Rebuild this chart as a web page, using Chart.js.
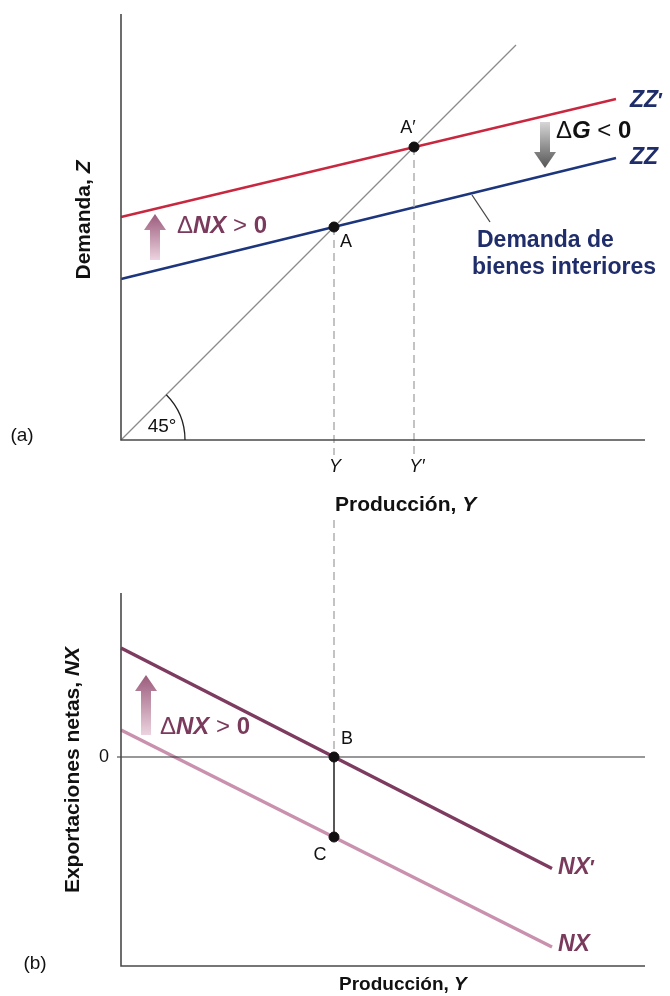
<!DOCTYPE html>
<html>
<head>
<meta charset="utf-8">
<script src="https://cdn.jsdelivr.net/npm/chart.js@4.4.1/dist/chart.umd.min.js"></script>
<style>
  html, body { margin: 0; padding: 0; background: #fff; }
  canvas { display: block; }
</style>
</head>
<body>
<canvas id="modelo" width="670" height="996"></canvas>
<script>
// --- datos (unidades del gráfico; panel a usa eje yA, panel b usa eje yB) ---
const line45 = [[0, 0], [7.9, 7.9]];
const zzDemand = [[0, 3.22], [9.9, 5.64]];      // ZZ
const zzPrime = [[0, 4.46], [9.9, 6.82]];       // ZZ'
const pointA = [4.26, 4.26];
const pointA2 = [5.86, 5.86];
const nxLine = [[0, 0.54], [8.62, -3.8]];       // NX
const nxPrime = [[0, 2.18], [8.62, -2.23]];     // NX'
const pointB = [4.26, 0];
const pointC = [4.26, -1.6];
const axisA = { top: 8.52, right: 10.48 };
const axisB = { top: 3.28, bottom: -4.18, right: 10.48 };

const pts = arr => arr.map(p => ({ x: p[0], y: p[1] }));

const NAVY = '#1f2d6b';
const MAUVE = '#7a3a5c';

function seg(data, color, width, axis, dash) {
  return {
    data: pts(data), yAxisID: axis, showLine: true, borderColor: color,
    borderWidth: width, borderDash: dash || [], pointRadius: 0, fill: false, order: 2
  };
}
function dot(p, axis) {
  return {
    data: pts([p]), yAxisID: axis, pointRadius: 5, pointBackgroundColor: '#111',
    pointBorderColor: '#111', showLine: false, order: 0
  };
}

const datasets = [
  // panel (a)
  seg([[0, axisA.top], [0, 0], [axisA.right, 0]], '#4a4a4a', 1.6, 'yA'),
  seg([[pointA[0], pointA[1]], [pointA[0], -0.3]], '#b0b0b0', 1.5, 'yA', [8, 5]),
  seg([[pointA2[0], pointA2[1]], [pointA2[0], -0.3]], '#b0b0b0', 1.5, 'yA', [8, 5]),
  seg(line45, '#8a8a8a', 1.3, 'yA'),
  seg(zzDemand, '#1c357c', 2.4, 'yA'),
  seg(zzPrime, '#c8283f', 2.4, 'yA'),
  seg([[7.02, 4.9], [7.38, 4.36]], '#444', 1.3, 'yA'),
  dot(pointA, 'yA'),
  dot(pointA2, 'yA'),
  // panel (b)
  seg([[0, axisB.top], [0, axisB.bottom], [axisB.right, axisB.bottom]], '#4a4a4a', 1.6, 'yB'),
  seg([[-0.08, 0], [axisB.right, 0]], '#333', 1.2, 'yB'),
  seg([[pointB[0], 4.74], [pointB[0], 0]], '#b0b0b0', 1.5, 'yB', [8, 5]),
  seg(nxLine, '#c991ad', 3.4, 'yB'),
  seg(nxPrime, '#7d3b5f', 3.4, 'yB'),
  seg([pointB, pointC], '#111', 1.4, 'yB'),
  dot(pointB, 'yB'),
  dot(pointC, 'yB')
];

// etiquetas: segmentos con distintos estilos
const labels = [
  { axis: 'yA', x: 10.18, y: 6.78, color: NAVY, parts: [['ZZ', 'italic bold 23px'], ['′', 'bold 20px']] },
  { axis: 'yA', x: 10.18, y: 5.64, color: NAVY, parts: [['ZZ', 'italic bold 23px']] },
  { axis: 'yA', x: 8.7, y: 6.18, color: '#111', parts: [['Δ', '24px'], ['G', 'italic bold 24px'], [' < ', '24px'], ['0', 'bold 24px']] },
  { axis: 'yA', x: 5.74, y: 6.24, color: '#111', center: true, parts: [['A′', '18px']] },
  { axis: 'yA', x: 4.5, y: 3.96, color: '#111', center: true, parts: [['A', '18px']] },
  { axis: 'yA', x: 1.12, y: 4.28, color: MAUVE, parts: [['Δ', '24px'], ['NX', 'italic bold 24px'], [' > ', '24px'], ['0', 'bold 24px']] },
  { axis: 'yA', x: 7.12, y: 3.98, color: NAVY, parts: [['Demanda de', 'bold 23px']] },
  { axis: 'yA', x: 7.02, y: 3.44, color: NAVY, parts: [['bienes interiores', 'bold 23px']] },
  { axis: 'yA', x: 0.82, y: 0.26, color: '#111', center: true, parts: [['45°', '19px']] },
  { axis: 'yA', x: -1.98, y: 0.08, color: '#111', center: true, parts: [['(a)', '19px']] },
  { axis: 'yA', x: 4.28, y: -0.54, color: '#111', center: true, parts: [['Y', 'italic 18px']] },
  { axis: 'yA', x: 5.92, y: -0.54, color: '#111', center: true, parts: [['Y′', 'italic 18px']] },
  { axis: 'yA', x: 4.28, y: -1.3, color: '#111', parts: [['Producción, ', 'bold 21px'], ['Y', 'italic bold 21px']] },
  { axis: 'yA', x: -0.74, y: 4.4, color: '#111', center: true, rotate: true, parts: [['Demanda, ', 'bold 21px'], ['Z', 'italic bold 21px']] },
  { axis: 'yB', x: -0.96, y: -0.26, color: '#111', center: true, rotate: true, parts: [['Exportaciones netas, ', 'bold 21px'], ['NX', 'italic bold 21px']] },
  { axis: 'yB', x: -0.34, y: 0, color: '#111', center: true, parts: [['0', '18px']] },
  { axis: 'yB', x: 4.52, y: 0.36, color: '#111', center: true, parts: [['B', '18px']] },
  { axis: 'yB', x: 3.98, y: -1.96, color: '#111', center: true, parts: [['C', '18px']] },
  { axis: 'yB', x: 0.78, y: 0.6, color: MAUVE, parts: [['Δ', '24px'], ['NX', 'italic bold 24px'], [' > ', '24px'], ['0', 'bold 24px']] },
  { axis: 'yB', x: 8.74, y: -2.22, color: MAUVE, parts: [['NX', 'italic bold 23px'], ['′', 'bold 20px']] },
  { axis: 'yB', x: 8.74, y: -3.76, color: MAUVE, parts: [['NX', 'italic bold 23px']] },
  { axis: 'yB', x: -1.72, y: -4.14, color: '#111', center: true, parts: [['(b)', '19px']] },
  { axis: 'yB', x: 4.36, y: -4.56, color: '#111', parts: [['Producción, ', 'bold 19px'], ['Y', 'italic bold 19px']] }
];

// flechas: x, base, punta (unidades)
const arrows = [
  { axis: 'yA', x: 0.68, from: 3.6, to: 4.52, c0: '#ecd3df', c1: '#9b5b7c' },
  { axis: 'yB', x: 0.5, from: 0.44, to: 1.64, c0: '#ecd3df', c1: '#9b5b7c' },
  { axis: 'yA', x: 8.48, from: 6.36, to: 5.44, c0: '#d6d6d6', c1: '#555' }
];

const FAM = ' "Liberation Sans", Arial, sans-serif';

const annotatePlugin = {
  id: 'annotate',
  afterDatasetsDraw(chart) {
    const { ctx, scales } = chart;
    const sx = scales.x;

    // arco de 45°
    const ox = sx.getPixelForValue(0), oy = scales.yA.getPixelForValue(0);
    const r = sx.getPixelForValue(1.28) - ox;
    ctx.save();
    ctx.strokeStyle = '#222';
    ctx.lineWidth = 1.3;
    ctx.beginPath();
    ctx.arc(ox, oy, r, -Math.PI / 4, 0);
    ctx.stroke();
    ctx.restore();

    // flechas
    arrows.forEach(a => {
      const x = sx.getPixelForValue(a.x);
      const y0 = scales[a.axis].getPixelForValue(a.from);
      const y1 = scales[a.axis].getPixelForValue(a.to);
      const dir = y1 < y0 ? -1 : 1;
      const head = 16, hw = 11, sw = 5;
      const g = ctx.createLinearGradient(0, y0, 0, y1);
      g.addColorStop(0, a.c0);
      g.addColorStop(1, a.c1);
      ctx.save();
      ctx.fillStyle = g;
      ctx.beginPath();
      ctx.moveTo(x - sw, y0);
      ctx.lineTo(x - sw, y1 - dir * head);
      ctx.lineTo(x - hw, y1 - dir * head);
      ctx.lineTo(x, y1);
      ctx.lineTo(x + hw, y1 - dir * head);
      ctx.lineTo(x + sw, y1 - dir * head);
      ctx.lineTo(x + sw, y0);
      ctx.closePath();
      ctx.fill();
      ctx.restore();
    });

    // textos
    labels.forEach(l => {
      const px = sx.getPixelForValue(l.x);
      const py = scales[l.axis].getPixelForValue(l.y);
      ctx.save();
      ctx.fillStyle = l.color;
      ctx.textBaseline = 'middle';
      ctx.textAlign = 'left';
      let total = 0;
      l.parts.forEach(p => { ctx.font = p[1] + FAM; total += ctx.measureText(p[0]).width; });
      ctx.translate(px, py);
      if (l.rotate) ctx.rotate(-Math.PI / 2);
      let cx = l.center ? -total / 2 : 0;
      l.parts.forEach(p => {
        ctx.font = p[1] + FAM;
        ctx.fillText(p[0], cx, 0);
        cx += ctx.measureText(p[0]).width;
      });
      ctx.restore();
    });
  }
};

new Chart(document.getElementById('modelo'), {
  type: 'scatter',
  data: { datasets },
  options: {
    responsive: false,
    animation: false,
    layout: { padding: 0, autoPadding: false },
    plugins: { legend: { display: false }, tooltip: { enabled: false } },
    scales: {
      x: { type: 'linear', min: -2.42, max: 10.98, display: false },
      yA: { type: 'linear', min: -11.12, max: 8.8, display: false },
      yB: { type: 'linear', min: -4.78, max: 15.14, display: false }
    }
  },
  plugins: [annotatePlugin]
});
</script>
</body>
</html>
